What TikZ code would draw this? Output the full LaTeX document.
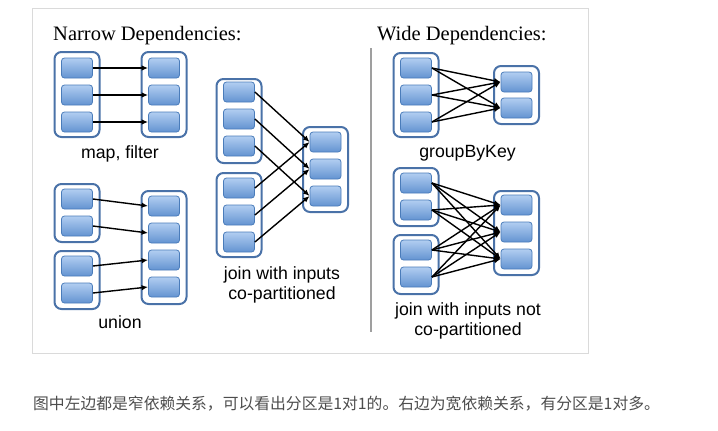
\documentclass[tikz,border=0pt]{standalone}
\usepackage{fontspec}
\setmainfont{Liberation Serif}
\setsansfont{Liberation Sans}
\newfontfamily\cjk{Noto Sans CJK SC}
\usetikzlibrary{arrows.meta}

\definecolor{grpblue}{HTML}{4A72A8}
\definecolor{parttop}{HTML}{B2CEF1}
\definecolor{partbot}{HTML}{6393D1}
\definecolor{partline}{HTML}{4A7CBA}
\definecolor{framegray}{HTML}{DADADA}
\definecolor{capgray}{HTML}{4D4D4D}

\tikzset{
  grp/.style={draw=grpblue, line width=2pt, rounded corners=7pt, fill=white,
    minimum width=45pt, inner sep=0pt},
  part/.style={draw=partline, line width=0.8pt, rounded corners=3pt,
    top color=parttop, bottom color=partbot,
    minimum width=31pt, minimum height=20pt, inner sep=0pt},
  dep/.style={-{Latex[length=6.5pt,width=5.5pt]}, line width=1.4pt},
  lbl/.style={font=\sffamily\fontsize{17.7}{20}\selectfont, align=center, inner sep=0pt},
  ttl/.style={font=\fontsize{20.5}{24}\selectfont, anchor=base west, inner sep=0pt}
}

\begin{document}
\begin{tikzpicture}[x=1pt,y=-1pt]
    \useasboundingbox (0,0) rectangle (718,431);
    \draw[framegray, line width=1pt] (32.5,8.5) rectangle (588.5,353.5);

    %titles
        \node[ttl] (narrow) at (53,40) {Narrow Dependencies:};
        \node[ttl] (wide) at (377,40) {Wide Dependencies:};
        \draw[gray!75, line width=2pt] (370.5,48) -- (370.5,332);

    %map, filter
        \node[grp, minimum height=85pt] (mfA) at (77,94.5) {};
        \node[grp, minimum height=85pt] (mfB) at (164,94.5) {};
        \foreach \y [count=\i] in {68,95,122} {
            \node[part] (mfA\i) at (77,\y) {};
            \node[part] (mfB\i) at (164,\y) {};
        }
        \foreach \i in {1,2,3} \draw[dep] (mfA\i.east) -- (mfB\i.west);
        \node[lbl, anchor=base] (mflbl) at (120,158) {map, filter};

    %union
        \node[grp, minimum height=58pt] (unA) at (77,213) {};
        \node[grp, minimum height=58pt] (unB) at (77,280) {};
        \node[grp, minimum height=113pt] (unC) at (164,247.5) {};
        \foreach \y [count=\i] in {199,226} \node[part] (unA\i) at (77,\y) {};
        \foreach \y [count=\i] in {266,293} \node[part] (unB\i) at (77,\y) {};
        \foreach \y [count=\i] in {206,233,260,287} \node[part] (unC\i) at (164,\y) {};
        \draw[dep] (unA1.east) -- (unC1.west);
        \draw[dep] (unA2.east) -- (unC2.west);
        \draw[dep] (unB1.east) -- (unC3.west);
        \draw[dep] (unB2.east) -- (unC4.west);
        \node[lbl, anchor=base] (unlbl) at (120,328) {union};

    %join, co-partitioned
        \node[grp, minimum height=84pt] (jcA) at (239,121) {};
        \node[grp, minimum height=84pt] (jcB) at (239,215) {};
        \node[grp, minimum height=85pt] (jcC) at (325.5,169.5) {};
        \foreach \y [count=\i] in {92,119,146} \node[part] (jcA\i) at (239,\y) {};
        \foreach \y [count=\i] in {188,215,242} \node[part] (jcB\i) at (239,\y) {};
        \foreach \y [count=\i] in {142,169,196} \node[part] (jcC\i) at (325.5,\y) {};
        \foreach \i in {1,2,3} {
            \draw[dep] (jcA\i.east) -- (jcC\i.west);
            \draw[dep] (jcB\i.east) -- (jcC\i.west);
        }
        \node[lbl, anchor=north] (jclbl) at (282,266) {join with inputs\\co-partitioned};

    %groupByKey
        \node[grp, minimum height=84pt] (gbA) at (416,95) {};
        \node[grp, minimum height=58pt] (gbB) at (516.5,95) {};
        \foreach \y [count=\i] in {68,95,122} \node[part] (gbA\i) at (416,\y) {};
        \foreach \y [count=\i] in {82,108} \node[part] (gbB\i) at (516.5,\y) {};
        \foreach \i in {1,2,3}
            \foreach \j in {1,2} \draw[dep] (gbA\i.east) -- (gbB\j.west);
        \node[lbl, anchor=base] (gblbl) at (467.5,157) {groupByKey};

    %join, not co-partitioned
        \node[grp, minimum height=58pt] (jnA) at (416,197) {};
        \node[grp, minimum height=59pt] (jnB) at (416,264.5) {};
        \node[grp, minimum height=84pt] (jnC) at (516.5,233) {};
        \foreach \y [count=\i] in {183,210} \node[part] (jnA\i) at (416,\y) {};
        \foreach \y [count=\i] in {250,277} \node[part] (jnB\i) at (416,\y) {};
        \foreach \y [count=\i] in {205,232,259} \node[part] (jnC\i) at (516.5,\y) {};
        \foreach \j in {1,2,3} {
            \foreach \i in {1,2} {
                \draw[dep] (jnA\i.east) -- (jnC\j.west);
                \draw[dep] (jnB\i.east) -- (jnC\j.west);
            }
        }
        \node[lbl, anchor=north] (jnlbl) at (468,302) {join with inputs not\\co-partitioned};

    %caption
        \node[font=\cjk\fontsize{15.8}{19}\selectfont, text=capgray, anchor=base west, inner sep=0pt]
            (cap) at (33,409) {图中左边都是窄依赖关系，可以看出分区是1对1的。右边为宽依赖关系，有分区是1对多。};
\end{tikzpicture}
\end{document}
